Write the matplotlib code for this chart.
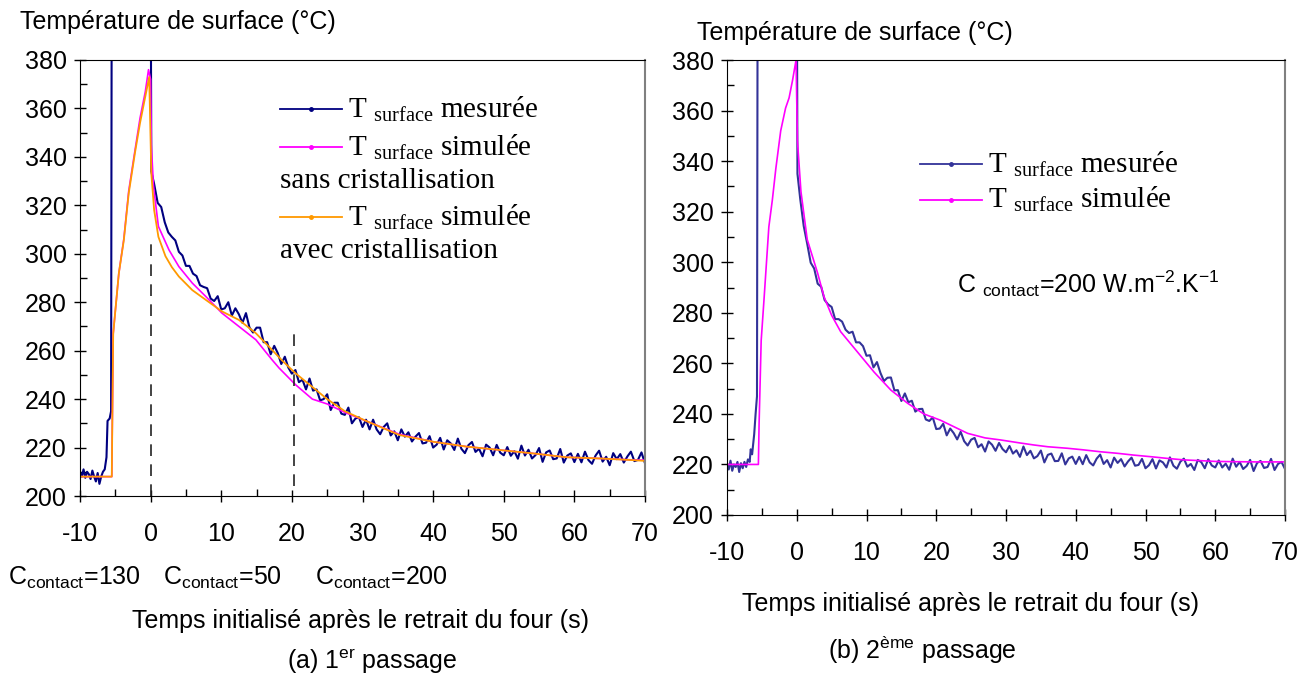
import numpy as np
import matplotlib
matplotlib.use('Agg')
import matplotlib.pyplot as plt
from matplotlib.lines import Line2D
from matplotlib.ticker import MultipleLocator

plt.rcParams['font.family'] = 'Liberation Sans'
plt.rcParams['axes.unicode_minus'] = False
plt.rcParams['mathtext.fontset'] = 'custom'
plt.rcParams['mathtext.rm'] = 'Liberation Serif'
plt.rcParams['mathtext.sf'] = 'Liberation Sans'

# ---------------- data : (a) 1er passage ----------------
# measured surface temperature, start of the record (oven phase)
meas1_t_head = [-10.0, -9.75, -9.5, -9.25, -9.0, -8.75, -8.5, -8.25, -8.0, -7.75,
                -7.5, -7.25, -7.0, -6.75, -6.5, -6.25, -6.1, -5.8, -5.6, -5.5,
                -3.0, 0.0, 0.1]
meas1_T_head = [210, 208, 211, 207.5, 210, 209, 207, 210.5, 208, 206,
                209.5, 205, 208, 210, 211, 216, 231, 232, 235, 430,
                430, 430, 334]
# measured after removal from the oven, every 0.5 s from 0.5 s to 70 s
meas_t_body = np.arange(0.5, 70.01, 0.5)
meas1_T_body = [328.8, 321, 319.3, 313, 308.8, 307, 305.5, 300.8, 299.3, 295,
                295, 291.8, 290.8, 287, 286.3, 285.8, 281.5, 280.5, 282.5, 277,
                277.5, 280, 274.5, 277.5, 275, 271.5, 275.5, 269.5, 267.5, 269.5,
                269.5, 263.5, 263.5, 258.5, 262, 259, 254.5, 257.5, 253, 250.5,
                252, 247, 248, 244, 248.5, 243.5, 244, 239.5, 240, 242,
                235.5, 238.5, 238.5, 234, 233.5, 236.5, 230, 232, 232.5, 228.5,
                231.5, 227.5, 231.5, 227.5, 225.5, 228.5, 230, 225, 226.7, 223,
                227.5, 224.5, 226.3, 222.5, 224.5, 226, 221.7, 222, 224.7, 220,
                221.2, 224, 219.2, 223, 221.7, 219, 223.7, 219.5, 217.7, 221,
                222.3, 218.2, 219.5, 216.4, 221.2, 220, 216.8, 221.1, 217.9, 216.8,
                220.2, 216.6, 218.5, 215.4, 220.8, 216.7, 219.1, 215.5, 216.9, 219.8,
                214.1, 218, 218.8, 215.2, 215.5, 219.4, 213.8, 216.7, 217.6, 214,
                217.4, 213.9, 218.3, 214.8, 213.3, 216.7, 218.7, 214.2, 216.2, 212.7,
                217.7, 215.2, 217.3, 213.8, 216.3, 218.3, 214.4, 214.9, 218, 213.5]

# simulated without crystallisation
sim1_t = [-10, -5.5, -5.3, -4.5, -3.8, -3.1, -2.2, -1.5, -0.75, -0.3, 0.0, 0.1,
          0.4, 1.1, 2.6, 4.0, 5.9, 7.8, 10.1, 12.5, 14.9, 17.2, 18.2, 20.5, 22.9,
          25.0, 27.5, 30.5, 35.2, 40.0, 44.7, 49.4, 54.1, 58.9, 63.6, 68.3, 70.0]
sim1_T = [208, 208, 267, 292, 306, 326, 343, 356, 367, 376, 372, 345,
          328, 311.3, 301.6, 294.7, 287.9, 282.4, 275.5, 270, 264.5, 256.2, 252.8, 246, 240,
          238, 234.5, 231, 225.5, 222.4, 220.4, 219, 217.6, 216, 215.5, 214.9, 214.8]

# simulated with crystallisation
simc1_t = [-10, -5.5, -5.3, -4.5, -3.8, -3.1, -2.2, -1.5, -0.75, -0.2, 0.1,
           0.5, 1.1, 2.1, 3.0, 4.0, 5.9, 7.8, 10.1, 12.5, 14.9, 17.2, 18.6, 20.5, 22.9,
           25.0, 27.5, 30.5, 35.2, 40.0, 44.7, 49.4, 54.1, 58.9, 63.6, 68.3, 70.0]
simc1_T = [208, 208, 267, 292, 305.5, 325, 342, 354, 365, 373, 333,
           318, 307, 299, 294.5, 290.6, 285, 281, 276.2, 272.7, 267.2, 260.3, 256, 250.7, 245,
           240, 235, 231, 225.2, 222.4, 220.4, 219, 217.6, 216, 215.5, 214.8, 214.5]

# limits of the contact-conductance phases (dashed markers)
phase_t = [0.0, 20.3]
phase_ymin = [200, 204]
phase_ymax = [305, 270]
phase_labels = ['C$_{\\mathsf{contact}}$=130', 'C$_{\\mathsf{contact}}$=50',
                'C$_{\\mathsf{contact}}$=200']

# ---------------- data : (b) 2eme passage ----------------
meas2_t_head = [-10.0, -9.75, -9.5, -9.25, -9.0, -8.75, -8.5, -8.25, -8.0, -7.75,
                -7.5, -7.25, -7.0, -6.75, -6.6, -6.4, -6.1, -5.9, -5.7, -5.6,
                -3.0, 0.0, 0.1]
meas2_T_head = [220, 218, 221.5, 217.5, 220, 219, 221, 217, 220.5, 218.5,
                221, 219, 222, 221, 226, 224, 232, 240, 247, 430,
                430, 430, 335]
meas2_T_body = [325, 314.3, 307.3, 299.8, 297.5, 291.5, 290.3, 285, 283.3, 282.3,
                277.5, 277.5, 276.5, 273.3, 272, 272.5, 268.3, 268.3, 266.8, 263,
                263.2, 258.4, 260.5, 256.2, 253, 254.3, 254.4, 249.3, 249.4, 245.1,
                248.1, 244.6, 245.2, 240.9, 241.9, 242, 237.8, 237.2, 238.6, 234,
                234.2, 236.1, 231.5, 234.2, 232.4, 229.9, 232.9, 229.2, 227.5, 229.8,
                230.5, 226.8, 228, 225.1, 229.1, 227.8, 225.4, 228.5, 226.1, 224.8,
                227.3, 224.3, 225.6, 223, 227.1, 223.7, 225.4, 222.4, 223.3, 225.5,
                220.8, 223.8, 224.3, 221.3, 221.4, 224.4, 220, 222.4, 223.1, 220.2,
                223, 220.1, 223.7, 220.8, 219.6, 222.3, 223.9, 220.2, 221.7, 218.8,
                222.7, 220.6, 222.1, 219.2, 221.2, 222.7, 219.5, 219.8, 222.2, 218.5,
                219.7, 222.1, 218.4, 221.6, 220.8, 218.8, 222.8, 219.5, 218.3, 221.1,
                222.3, 219.1, 220.2, 217.8, 221.8, 220.9, 218.5, 222.1, 219.6, 218.8,
                221.6, 218.8, 220.3, 217.9, 222.3, 219.1, 221, 218.2, 219.4, 221.8,
                217.4, 220.6, 221.4, 218.6, 219, 222.2, 217.8, 220.2, 221, 218.2]

sim2_t = [-10, -5.5, -5.4, -5.1, -4.7, -4.0, -3.5, -3.0, -2.3, -1.6, -1.1, -0.6, -0.1,
          0.1, 0.6, 1.5, 3.0, 3.9, 5.0, 6.3, 8.7, 11.1, 13.5, 15.9, 18.2, 20.6,
          24.5, 27.0, 29.2, 32.0, 34.0, 36.0, 38.8, 41.0, 43.6, 46.0, 48.3, 51.0,
          53.1, 55.5, 57.9, 60.0, 62.6, 66.0, 70.0]
sim2_T = [220, 220, 236, 269, 285, 314, 324.6, 337, 352, 361, 365, 372, 380,
          348, 328, 309, 295.6, 286.4, 279, 272.5, 264.5, 256.5, 249.4, 244.2, 240, 237.5,
          232.3, 230.5, 229.7, 228.5, 227.7, 227, 226.4, 225.8, 225, 224.4, 223.7, 223,
          222.4, 221.8, 221.5, 221.2, 221.1, 221, 221]

W, H = 1310, 679


def fx(x):
    return x / W


def fy(y):
    return 1 - y / H


fig = plt.figure(figsize=(W / 100, H / 100), dpi=100)
ax1 = fig.add_axes([fx(80), fy(496), (645 - 80) / W, (496 - 60) / H])
ax2 = fig.add_axes([fx(727), fy(515), (1285 - 727) / W, (515 - 60) / H])

c_meas1 = '#000080'
c_meas2 = '#333399'
c_sim = '#FF00FF'
c_simc = '#FF9900'

ax1.plot(meas1_t_head + list(meas_t_body), meas1_T_head + meas1_T_body, color=c_meas1, lw=1.5)
ax1.plot(sim1_t, sim1_T, color=c_sim, lw=1.2)
ax1.plot(simc1_t, simc1_T, color=c_simc, lw=1.3)
ax1.vlines(phase_t, phase_ymin, phase_ymax, colors='#222222', lw=1.2, linestyles=(0, (7, 5)))

ax2.plot(meas2_t_head + list(meas_t_body), meas2_T_head + meas2_T_body, color=c_meas2, lw=1.5)
ax2.plot(sim2_t, sim2_T, color=c_sim, lw=1.2)

for ax in (ax1, ax2):
    ax.set_xlim(-10, 70)
    ax.set_ylim(200, 380)
    ax.xaxis.set_major_locator(MultipleLocator(10))
    ax.xaxis.set_minor_locator(MultipleLocator(5))
    ax.yaxis.set_major_locator(MultipleLocator(20))
    ax.yaxis.set_minor_locator(MultipleLocator(10))
    ax.tick_params(which='major', direction='inout', length=9, width=1, labelsize=18)
    ax.tick_params(which='minor', direction='in', length=5, width=1)
    ax.tick_params(axis='x', which='major', pad=14)
    ax.tick_params(axis='y', which='major', pad=5)
    for s in ('left', 'bottom', 'top'):
        ax.spines[s].set_color('black')
    ax.spines['right'].set_color('#808080')
    ax.spines['right'].set_linewidth(1.5)

# axis titles and captions
fig.text(fx(20), fy(22), 'Température de surface (°C)', fontsize=18, va='center')
fig.text(fx(697), fy(33), 'Température de surface (°C)', fontsize=18, va='center')
fig.text(fx(361), fy(621), 'Temps initialisé après le retrait du four (s)', fontsize=18,
         ha='center', va='center')
fig.text(fx(970), fy(604), 'Temps initialisé après le retrait du four (s)', fontsize=18,
         ha='center', va='center')
fig.text(fx(372), fy(662), '(a) 1$^{\\mathsf{er}}$ passage', fontsize=18, ha='center', va='center')
fig.text(fx(922), fy(650), '(b) 2$^{\\mathsf{ème}}$ passage', fontsize=18, ha='center', va='center')
for xp, lab in zip([8, 163, 315], phase_labels):
    fig.text(fx(xp), fy(578), lab, fontsize=18, va='center')
fig.text(fx(957), fy(293), 'C $_{\\mathsf{contact}}$=200 W.m$^{\\mathsf{-2}}$.K$^{\\mathsf{-1}}$',
         fontsize=18, va='baseline')


# hand-made legends (Excel style, serif text)
def legend_row(x0, x1, y, color, label, y_base):
    fig.add_artist(Line2D([fx(x0), fx((x0 + x1) / 2), fx(x1)], [fy(y)] * 3, color=color, lw=1.3,
                          marker='o', markevery=[1], ms=2.5))
    fig.text(fx(x1 + 6), fy(y_base), label, fontsize=21, family='Liberation Serif', va='baseline')


legend_row(280, 342, 109, c_meas1, 'T $_{\\mathrm{surface}}$ mesurée', 117)
legend_row(280, 342, 147, c_sim, 'T $_{\\mathrm{surface}}$ simulée', 155)
fig.text(fx(280), fy(188), 'sans cristallisation', fontsize=21, family='Liberation Serif', va='baseline')
legend_row(280, 342, 217, c_simc, 'T $_{\\mathrm{surface}}$ simulée', 225)
fig.text(fx(280), fy(258), 'avec cristallisation', fontsize=21, family='Liberation Serif', va='baseline')

legend_row(920, 982, 164, c_meas2, 'T $_{\\mathrm{surface}}$ mesurée', 172)
legend_row(920, 982, 200, c_sim, 'T $_{\\mathrm{surface}}$ simulée', 207)

fig.savefig('out.png', dpi=100)
